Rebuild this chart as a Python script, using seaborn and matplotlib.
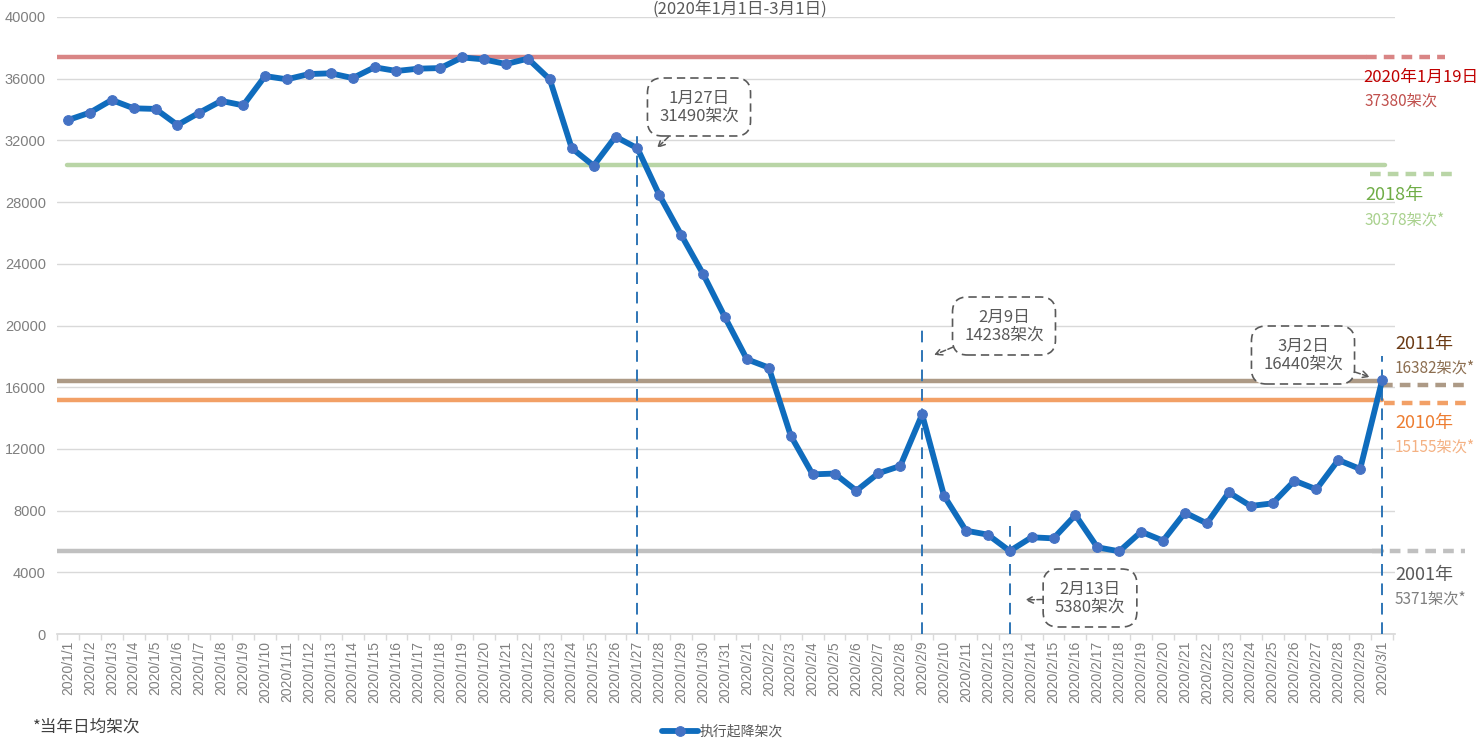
import numpy as np
import pandas as pd
import matplotlib
matplotlib.use('Agg')
import matplotlib.pyplot as plt
import matplotlib.transforms as mtrans
import seaborn as sns

# x 轴日期标签 (2020/1/1 ~ 2020/3/1)
dates = pd.date_range('2020-01-01', '2020-03-01', freq='D')
date_labels = ['{}/{}/{}'.format(d.year, d.month, d.day) for d in dates]

# 每日执行起降架次
flights = [33320, 33800, 34620, 34080, 34040, 33000, 33800, 34560, 34270, 36170,
           35960, 36300, 36350, 36040, 36740, 36500, 36650, 36690, 37380, 37250,
           36950, 37300, 35960, 31500, 30360, 32240, 31490, 28460, 25870, 23340,
           20530, 17810, 17270, 12860, 10350, 10400, 9290, 10420, 10890, 14238,
           8960, 6700, 6440, 5380, 6270, 6200, 7710, 5620, 5360, 6630,
           6050, 7870, 7170, 9180, 8300, 8470, 9940, 9380, 11280, 10700,
           16440]

# 参考线: 历年日均架次
ref_names = ['2020年1月19日', '2018年', '2011年', '2010年', '2001年']
ref_values = [37380, 30378, 16382, 15155, 5371]
ref_texts = ['37380架次', '30378架次*', '16382架次*', '15155架次*', '5371架次*']

# 标注点
mark_idx = [26, 39, 43, 60]
mark_texts = ['1月27日\n31490架次', '2月9日\n14238架次', '2月13日\n5380架次', '3月2日\n16440架次']
vline_top = [32400, 20000, 7000, 18000]

W, H = 1482, 741
CJK = ['Noto Sans CJK SC', 'DejaVu Sans']

sns.set_theme(style='white')
plt.rcParams['font.family'] = ['Liberation Sans', 'Noto Sans CJK SC', 'DejaVu Sans']

fig = plt.figure(figsize=(W / 100, H / 100), dpi=100)
ax = fig.add_axes([57 / W, 1 - 634 / H, (1395 - 57) / W, (634 - 17) / H])

def fx(px):
    return px / W

def fy(py):
    return 1 - py / H

x_idx = np.arange(len(flights))

# grid
ax.set_ylim(0, 40000)
ax.set_yticks(np.arange(0, 40001, 4000))
ax.yaxis.grid(True, color='#d9d9d9', lw=1)
ax.set_axisbelow(True)

# 参考线 (实线 + 右侧虚线延伸)
ref_colors = ['#d98585', '#b9d5a6', '#ad9a86', '#f2a066', '#c0c0c0']
solid_span = [(0.0, 0.978), (0.0075, 0.9925), (0.0, 0.99), (0.0, 0.99), (0.0, 0.99)]
dash_span = [(0.978, 1.037), (0.981, 1.045), (0.99, 1.052), (0.992, 1.054), (0.983, 1.052)]
dash_off = [0, -6.5, -3, -2, 0]
for val, col, s, d, off in zip(ref_values, ref_colors, solid_span, dash_span, dash_off):
    ax.axhline(val, xmin=s[0], xmax=s[1], color=col, lw=3.2, zorder=2)
    tr = mtrans.offset_copy(ax.get_yaxis_transform(), fig=fig, y=off, units='points')
    ax.plot([d[0], d[1]], [val, val], transform=tr, color=col, lw=3.2,
            ls=(0, (2.4, 1.6)), clip_on=False, zorder=2)

# 标注竖线
ax.vlines(mark_idx, 0, vline_top, colors='#2e75b6', linestyles=(0, (6, 4)), lw=1.4, zorder=3)

# 主折线
sns.lineplot(x=x_idx, y=flights, ax=ax, color='#0f6cbd', lw=4.2, marker='o',
             markersize=7, markerfacecolor='#4472c4', markeredgecolor='#4472c4',
             label='执行起降架次', zorder=4)

ax.set_xlim(-0.456, 60.59)
ax.set_xticks(x_idx)
ax.set_xticklabels(date_labels, rotation=90, fontsize=10, color='#7f7f7f')
ax.set_xticks(np.arange(-0.5, 60.6, 1), minor=True)
ax.tick_params(axis='x', which='major', length=0, pad=5)
ax.tick_params(axis='x', which='minor', length=4, color='#d9d9d9', width=1, bottom=True)
ax.tick_params(axis='y', length=0, labelsize=10.5, labelcolor='#7f7f7f', pad=8)
for s in ['top', 'right', 'left']:
    ax.spines[s].set_visible(False)
ax.spines['bottom'].set_color('#d9d9d9')
ax.set_xlabel('')
ax.set_ylabel('')

# 右侧参考线文字
name_colors = ['#c00000', '#70ad47', '#6b3a14', '#ed7d31', '#595959']
sub_colors = ['#c0504d', '#a9d18e', '#8c6e50', '#f4b183', '#7f7f7f']
name_pos = [(1363, 77), (1365, 195), (1395, 344), (1395, 423), (1395, 575)]
sub_pos = [(1365, 101), (1365, 220), (1395, 368), (1395, 447), (1395, 599)]
name_size = [12, 13, 13, 13, 13]
for i in range(len(ref_names)):
    fig.text(fx(name_pos[i][0]), fy(name_pos[i][1]), ref_names[i], color=name_colors[i],
             fontsize=name_size[i], va='center', ha='left', family=CJK)
    fig.text(fx(sub_pos[i][0]), fy(sub_pos[i][1]), ref_texts[i], color=sub_colors[i],
             fontsize=11, va='center', ha='left', family=CJK)

# 标注框
box_center = [(699, 107), (1004, 326), (1090, 598), (1303, 355)]
tail_tip = [(657, 148), (934, 355), (1025, 600), (1370, 377)]
for t, c, tip in zip(mark_texts, box_center, tail_tip):
    ax.annotate(t, xy=(tip[0], H - tip[1]), xycoords='figure pixels',
                xytext=(c[0], H - c[1]), textcoords='figure pixels',
                ha='center', va='center', fontsize=12, color='#595959', family=CJK,
                linespacing=1.05,
                bbox=dict(boxstyle='round,pad=0.7,rounding_size=0.9', fc='white',
                          ec='#595959', ls=(0, (5, 3)), lw=1.2),
                arrowprops=dict(arrowstyle='->', ls='--', color='#595959', lw=1.1,
                                shrinkA=0, shrinkB=0),
                zorder=5, annotation_clip=False)

# 图例
ax.get_legend().remove()
handles, labels = ax.get_legend_handles_labels()
fig.legend(handles, labels, loc='center', bbox_to_anchor=(fx(722), fy(732)), frameon=False,
           prop={'family': CJK, 'size': 10}, labelcolor='#595959', handlelength=2.6,
           handletextpad=0.1)

# 标题与脚注
fig.text(fx(740), fy(1), '(2020年1月1日-3月1日)', ha='center', va='top', fontsize=12,
         color='#595959', family=CJK)
fig.text(fx(33), fy(727), '*当年日均架次', ha='left', va='center', fontsize=12,
         color='#404040', family=CJK)

fig.savefig('out.png', dpi=100)
